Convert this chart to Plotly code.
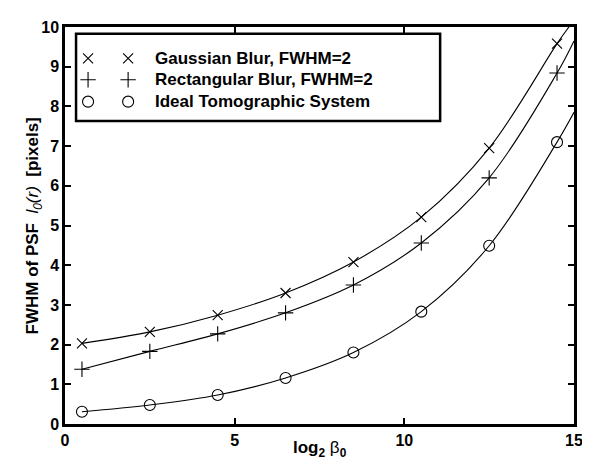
import plotly.graph_objects as go

# ---- data ----
log2_beta0 = [0.5, 2.5, 4.5, 6.5, 8.5, 10.5, 12.5, 14.5]
gaussian_fwhm = [2.03, 2.32, 2.74, 3.30, 4.08, 5.21, 6.95, 9.58]
rect_fwhm = [1.38, 1.83, 2.27, 2.80, 3.50, 4.56, 6.20, 8.84]
ideal_fwhm = [0.31, 0.48, 0.73, 1.16, 1.80, 2.83, 4.49, 7.10]

# where each fitted curve leaves the plot box
gaussian_end = (14.85, 10.0)
rect_end = (15.0, 9.65)
ideal_end = (15.0, 7.85)

series_names = ["Gaussian Blur, FWHM=2", "Rectangular Blur, FWHM=2", "Ideal Tomographic System"]
x_ticks = [0, 5, 10, 15]
y_ticks = list(range(0, 11))

FONT = "Liberation Sans, Arial, Helvetica, sans-serif"
BLACK = "#000000"

fig = go.Figure()

series = [
    (gaussian_fwhm, gaussian_end, "x-thin-open", 10),
    (rect_fwhm, rect_end, "cross-thin-open", 11),
    (ideal_fwhm, ideal_end, "circle-open", 11),
]

for (vals, end, sym, size), name in zip(series, series_names):
    fig.add_trace(go.Scatter(
        x=log2_beta0 + [end[0]], y=vals + [end[1]],
        mode="lines", line=dict(color=BLACK, width=1.1, shape="spline", smoothing=1.0),
        showlegend=False, hoverinfo="skip", cliponaxis=True,
    ))
    fig.add_trace(go.Scatter(
        x=log2_beta0, y=vals, mode="markers", name=name,
        marker=dict(symbol=sym, size=size, color=BLACK, line=dict(color=BLACK, width=1.1)),
        showlegend=False, cliponaxis=False,
    ))

# ---- custom legend (two marker samples per row, like the reference) ----
leg_rows_y = [0.921, 0.867, 0.812]
leg_sample_x = [0.0453, 0.124]
for (vals, end, sym, size), name, ry in zip(series, series_names, leg_rows_y):
    fig.add_trace(go.Scatter(
        x=leg_sample_x, y=[ry, ry], xaxis="x2", yaxis="y2", mode="markers",
        marker=dict(symbol=sym, size=size, color=BLACK, line=dict(color=BLACK, width=1.1)),
        showlegend=False, hoverinfo="skip", cliponaxis=False,
    ))
    fig.add_annotation(
        x=0.175, y=ry, xref="paper", yref="paper", text="<b>" + name + "</b>", showarrow=False,
        xanchor="left", yanchor="middle", borderpad=0,
        font=dict(family=FONT, size=17, color=BLACK),
    )

fig.add_shape(type="rect", xref="paper", yref="paper",
              x0=0.0217, x1=0.737, y0=0.763, y1=0.983,
              line=dict(color=BLACK, width=2.5), fillcolor="white", layer="below")

axis_common = dict(
    showgrid=False, zeroline=False, showline=True, linecolor=BLACK, linewidth=2.5,
    mirror="ticks", ticks="inside", ticklen=6, tickwidth=1.5, tickcolor=BLACK,
    tickfont=dict(family=FONT, size=16, color=BLACK),
)

fig.update_layout(
    width=590, height=468,
    margin=dict(l=57, r=24, t=11, b=52),
    paper_bgcolor="white", plot_bgcolor="white",
    xaxis=dict(range=[0, 15], tickvals=x_ticks,
               ticktext=["<b>%d</b>" % v for v in x_ticks], **axis_common),
    yaxis=dict(range=[0, 10], tickvals=y_ticks,
               ticktext=["<b>%d</b>" % v for v in y_ticks], **axis_common),
    xaxis2=dict(range=[0, 1], overlaying="x", visible=False),
    yaxis2=dict(range=[0, 1], overlaying="y", visible=False),
    showlegend=False,
)

# axis titles
fig.add_annotation(
    x=0.5, y=-0.062, xref="paper", yref="paper", showarrow=False,
    xanchor="center", yanchor="middle",
    text="<b>log<sub>2</sub></b> β<sub><b>0</b></sub>",
    font=dict(family=FONT, size=17, color=BLACK),
)
fig.add_annotation(
    x=-0.061, y=0.5, xref="paper", yref="paper", showarrow=False,
    xanchor="center", yanchor="middle", textangle=-90,
    text="<b>FWHM of PSF</b>&nbsp;&nbsp;<i>l<sub>0</sub>(r)</i>&nbsp;&nbsp;<b>[pixels]</b>",
    font=dict(family=FONT, size=17, color=BLACK),
)

fig.write_html("out.html")
